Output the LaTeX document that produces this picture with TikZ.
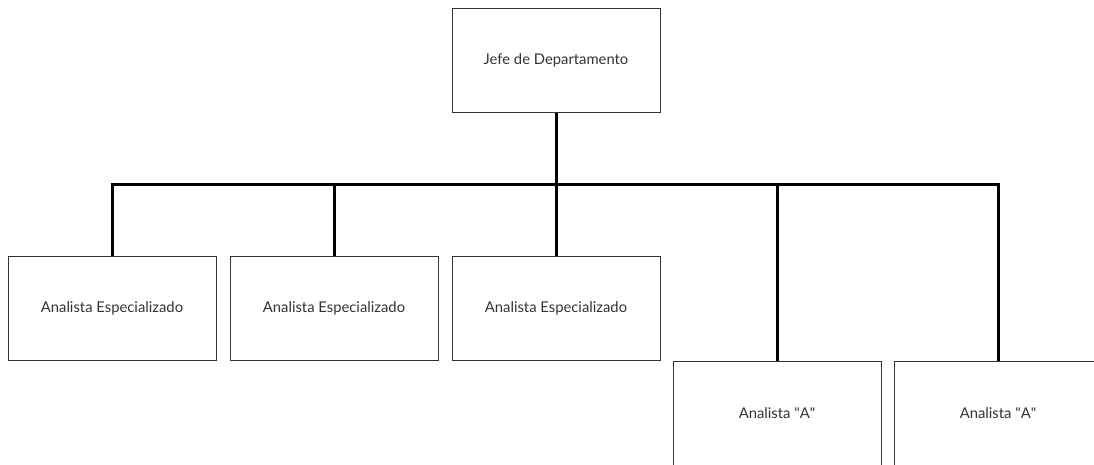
\documentclass[tikz,border=0pt]{standalone}
\usepackage{fontspec}
\setmainfont{Lato}
\usetikzlibrary{positioning}

\begin{document}
\begin{tikzpicture}[x=1pt,y=-1pt,
  puesto/.style={draw=black!80, line width=1pt, minimum width=208pt, minimum height=104pt,
    inner sep=0pt, text=black!80, font=\fontsize{14.8}{17}\selectfont},
  enlace/.style={black, line width=3pt}]
\useasboundingbox (0,0) rectangle (1094,464);
\clip (0,0) rectangle (1094,464);

% Jefe
\node[puesto] (jefe) at (556,60) {Jefe de Departamento};

% Analistas especializados
\node[puesto] (esp1) at (112,308) {Analista Especializado};
\node[puesto, right=13pt of esp1] (esp2) {Analista Especializado};
\node[puesto, right=13pt of esp2] (esp3) {Analista Especializado};

% Analistas A
\node[puesto] (ana1) at (777,413) {Analista \textquotedbl A\textquotedbl};
\node[puesto] (ana2) at (998,413) {Analista \textquotedbl A\textquotedbl};

% Lineas de mando
\coordinate (barra) at (0,184);
\draw[enlace] (jefe.south) -- (jefe.south |- barra);
\draw[enlace] (esp1.north) -- (esp1.north |- barra) -- (ana2.north |- barra) -- (ana2.north);
\foreach \n in {esp2,esp3,ana1}
  \draw[enlace] (\n.north) -- (\n.north |- barra);
\end{tikzpicture}
\end{document}
